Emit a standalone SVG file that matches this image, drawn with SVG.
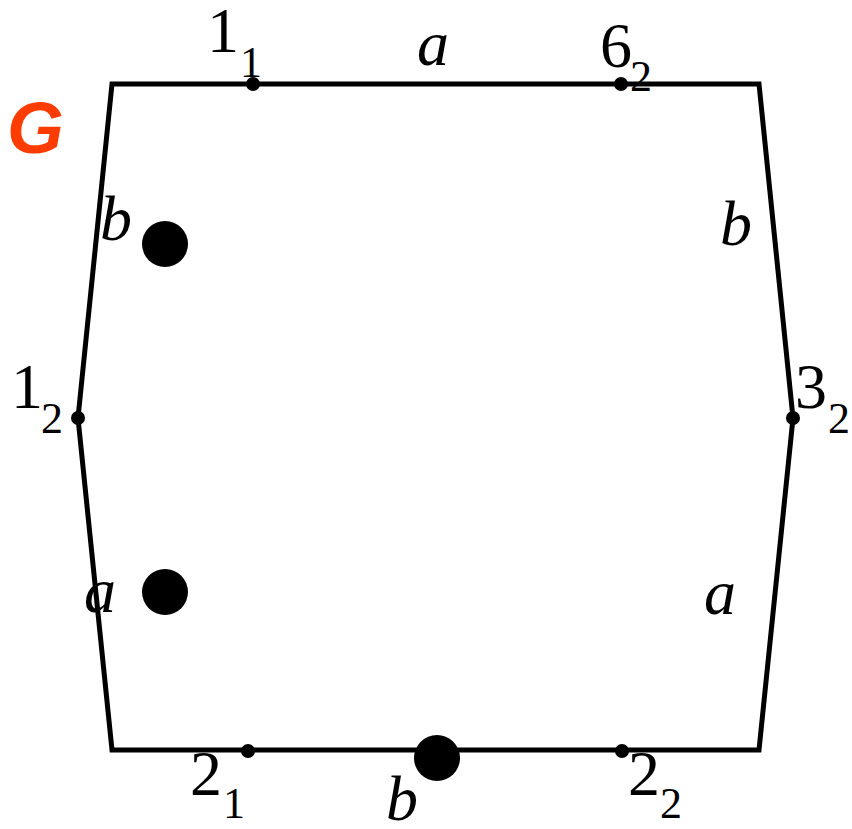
<svg xmlns="http://www.w3.org/2000/svg" width="852" height="829" viewBox="0 0 852 829">
<style>
.edge{fill:none;stroke:#000;stroke-width:5;stroke-linejoin:miter}
.t{font-family:"Liberation Serif","Times New Roman",serif;font-size:64px;fill:#000}
.s{font-family:"Liberation Serif","Times New Roman",serif;font-size:44px;fill:#000}
.i{font-style:italic}
.g{font-family:"Liberation Sans",Arial,sans-serif;font-size:73px;font-weight:bold;font-style:italic;fill:#ff3c00}
</style>
<rect width="852" height="829" fill="#fff"/>
<g id="connectors">
<polygon class="edge" points="112,84 759,84 793,418 759,750 112,750 78,418"/>
</g>
<g id="label-G"><text class="g" x="7" y="153">G</text></g>
<g id="v1_1"><circle cx="253" cy="84" r="7"/><text class="t" x="207" y="52">1</text><text class="s" x="240" y="77">1</text></g>
<g id="v6_2"><circle cx="621" cy="84" r="7"/><text class="t" x="600" y="67">6</text><text class="s" x="630" y="91">2</text></g>
<g id="v1_2"><circle cx="78" cy="418" r="7"/><text class="t" x="11" y="408">1</text><text class="s" x="41" y="433">2</text></g>
<g id="v3_2"><circle cx="793" cy="418" r="7"/><text class="t" x="795" y="408">3</text><text class="s" x="828" y="433">2</text></g>
<g id="v2_1"><circle cx="248" cy="751" r="7"/><text class="t" x="190" y="795">2</text><text class="s" x="223" y="818">1</text></g>
<g id="v2_2"><circle cx="622" cy="751" r="7"/><text class="t" x="628" y="795">2</text><text class="s" x="660" y="818">2</text></g>
<g id="p1"><circle cx="165" cy="244" r="23"/></g>
<g id="p2"><circle cx="165" cy="592" r="23"/></g>
<g id="p3"><circle cx="437" cy="758" r="23"/></g>
<g id="edge-labels">
<text class="t i" x="417" y="65">a</text>
<text class="t i" x="100" y="240">b</text>
<text class="t i" x="720" y="245">b</text>
<text class="t i" x="84" y="612">a</text>
<text class="t i" x="704" y="614">a</text>
<text class="t i" x="386" y="820">b</text>
</g>
</svg>
